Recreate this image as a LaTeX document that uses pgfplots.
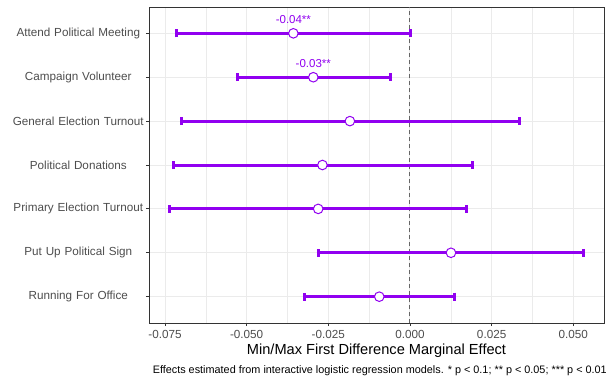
\documentclass[border=0pt]{standalone}
\usepackage{pgfplots}
\pgfplotsset{compat=1.18}
\usepackage{fontspec}
\setmainfont{Liberation Sans}
\definecolor{pur}{RGB}{145,0,240}
\definecolor{gridc}{RGB}{235,235,235}
\definecolor{g20}{RGB}{51,51,51}
\definecolor{g30}{RGB}{77,77,77}
\definecolor{g40}{RGB}{102,102,102}
\begin{document}
\begin{tikzpicture}[x=1pt,y=1pt]
\useasboundingbox (-149,-58) rectangle (464,323);
\begin{axis}[
  at={(0,0)}, anchor=south west,
  scale only axis, width=455pt, height=316pt,
  xmin=-0.0799, xmax=0.0594, ymin=0.4, ymax=7.6,
  xtick={-0.075,-0.05,-0.025,0,0.025,0.05},
  xticklabels={-0.075,-0.050,-0.025,0.000,0.025,0.050},
  minor xtick={-0.0625,-0.0375,-0.0125,0.0125,0.0375},
  ytick={1,2,3,4,5,6,7},
  yticklabels={Running For Office,Put Up Political Sign,Primary Election Turnout,Political Donations,General Election Turnout,Campaign Volunteer,Attend Political Meeting},
  xmajorgrids, ymajorgrids, xminorgrids,
  major grid style={gridc, line width=1pt},
  minor grid style={gridc, line width=0.6pt},
  axis line style={g20, line width=0.8pt},
  tick align=outside, tick pos=lower,
  major tick length=3pt, minor tick length=0pt,
  every tick/.style={g20, line width=0.8pt},
  tick label style={g30, font=\fontsize{11.7}{13}\selectfont},
  yticklabel style={text width=140pt, align=center, inner sep=0pt, xshift=2.5pt},
  xticklabel style={inner sep=0pt, yshift=-4pt},
  scaled x ticks=false,
  clip=false, axis on top=false,
]
\addplot[g40, dashed, dash pattern=on 4pt off 3pt, line width=1pt] coordinates {(0,0.4) (0,7.6)};
\addplot[draw=none, mark=none,
  error bars/.cd, x dir=both, x explicit,
  error bar style={pur, line width=3pt},
  error mark options={pur, line width=3pt, mark size=4pt, rotate=90}]
  table[x=x, y=y, x error minus=em, x error plus=ep] {
  y x em ep
  7 -0.0357 0.0358 0.0358
  6 -0.0296 0.0233 0.0235
  5 -0.0184 0.0514 0.0518
  4 -0.0268 0.0457 0.0459
  3 -0.0281 0.0454 0.0453
  2 0.01255 0.04055 0.04055
  1 -0.0094 0.0228 0.0230
};
\addplot[only marks, mark=*, mark size=4.8pt, mark options={fill=white, draw=pur, line width=1pt}]
  table[x=x, y=y] {
  y x
  7 -0.0357
  6 -0.0296
  5 -0.0184
  4 -0.0268
  3 -0.0281
  2 0.01255
  1 -0.0094
};
\addplot[draw=none, mark=none, nodes near coords, point meta=explicit symbolic,
  every node near coord/.append style={pur, font=\fontsize{11.5}{13}\selectfont, anchor=center, yshift=14pt}]
  table[x=x, y=y, meta=lab] {
  y x lab
  7 -0.0357 -0.04**
  6 -0.0296 -0.03**
};
\end{axis}
\node[font=\fontsize{10.85}{12}\selectfont, anchor=east, inner sep=0pt] at (458,-48) {Effects estimated from interactive logistic regression models. * p < 0.1; ** p < 0.05; *** p < 0.01};
\node[font=\fontsize{14.6}{17}\selectfont] at (227.5,-28) {Min/Max First Difference Marginal Effect};
\end{tikzpicture}
\end{document}
